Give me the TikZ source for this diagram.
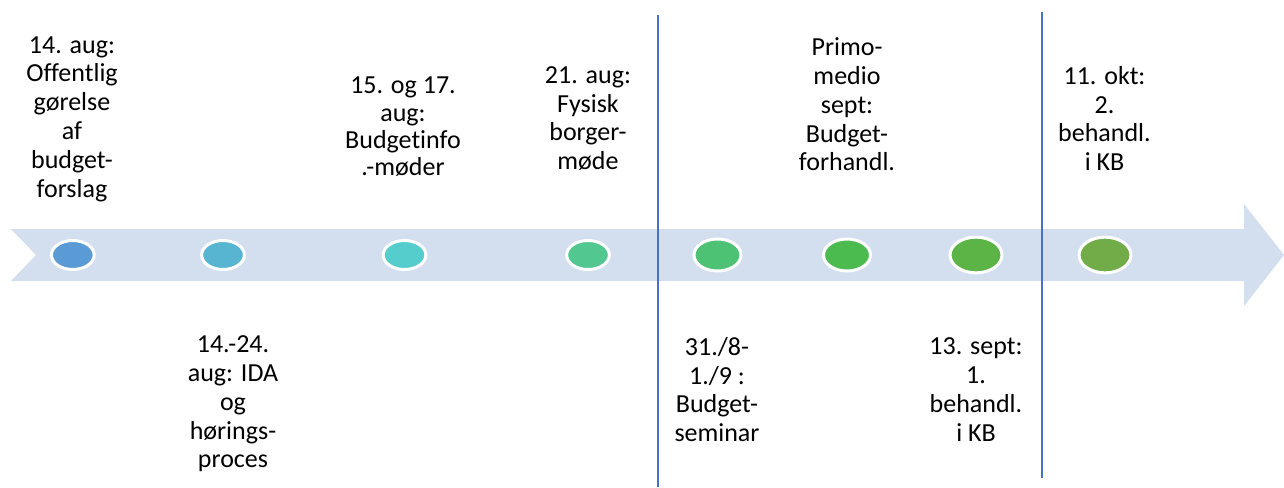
\documentclass[tikz,border=0pt]{standalone}
\usepackage{fontspec}
\setmainfont{Carlito}[Ligatures=NoCommon]
\usetikzlibrary{shapes.geometric}
\definecolor{band}{HTML}{D3DEEF}
\definecolor{sep}{HTML}{4472C4}
\definecolor{ca}{HTML}{5B9BD5}
\definecolor{cb}{HTML}{58B5D1}
\definecolor{cc}{HTML}{56CDCD}
\definecolor{cd}{HTML}{52C790}
\definecolor{ce}{HTML}{4DC174}
\definecolor{cf}{HTML}{4BBA4F}
\definecolor{cg}{HTML}{5DB446}
\definecolor{ch}{HTML}{71AC48}
\begin{document}
\begin{tikzpicture}[x=1pt,y=-1pt,
  dot/.style={ellipse, draw=white, line width=3pt, inner sep=0pt},
  dotS/.style={dot, minimum width=42.7pt, minimum height=29pt},
  dotM/.style={dot, minimum width=47pt, minimum height=32pt},
  dotL/.style={dot, minimum width=52pt, minimum height=35.7pt},
  lbl/.style={align=center, inner sep=0pt, font=\fontsize{26}{28.8}\selectfont},
  lblT/.style={align=center, inner sep=0pt, font=\fontsize{26}{27.3}\selectfont},
  sepline/.style={draw=sep, line width=1.4pt}]
\useasboundingbox (0,0) rectangle (1284,487);
% band arrow
\fill[band] (11,229) -- (1244,229) -- (1244,204) -- (1284,255) -- (1244,306)
  -- (1244,281) -- (11,281) -- (36,255) -- cycle;
% separators
\coordinate (s1t) at (658,15);
\coordinate (s1b) at (658,487);
\coordinate (s2t) at (1042,12);
\coordinate (s2b) at (1042,478);
\draw[sepline] (s1t) -- (s1b);
\draw[sepline] (s2t) -- (s2b);
% dots
\node[dotS, fill=ca] (d1) at (72.8,255) {};
\node[dotS, fill=cb] (d2) at (223,255) {};
\node[dotS, fill=cc] (d3) at (404.5,255) {};
\node[dotS, fill=cd] (d4) at (588,255) {};
\node[dotM, fill=ce] (d5) at (717.5,255) {};
\node[dotM, fill=cf] (d6) at (847,255) {};
\node[dotL, fill=cg] (d7) at (976,255) {};
\node[dotL, fill=ch] (d8) at (1105,255) {};
% labels
\node[lbl] (t1) at (72,119) {14. aug:\\Offentlig\\gørelse\\af\\budget-\\forslag};
\node[lbl] (t2) at (233,404) {14.-24.\\aug: IDA\\og\\hørings-\\proces};
\node[lblT] (t3) at (403,127) {15. og 17.\\aug:\\Budgetinfo\\.-møder};
\node[lbl] (t4) at (588,118.5) {21. aug:\\Fysisk\\borger-\\møde};
\node[lbl] (t5) at (717,389.5) {31./8-\\1./9 :\\Budget-\\seminar};
\node[lbl] (t6) at (847,104.5) {Primo-\\medio\\sept:\\Budget-\\forhandl.};
\node[lbl] (t7) at (976,389.5) {13. sept:\\1.\\behandl.\\i KB};
\node[lbl] (t8) at (1104.5,118.5) {11. okt:\\2.\\behandl.\\i KB};
\end{tikzpicture}
\end{document}
